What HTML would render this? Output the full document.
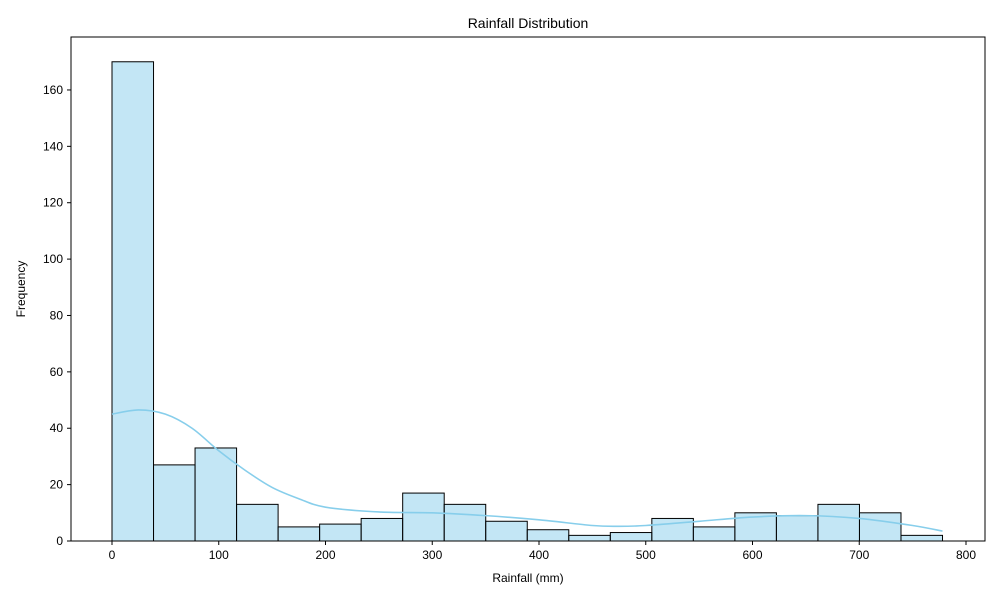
<!DOCTYPE html>
<html><head><meta charset="utf-8"><style>
body{margin:0;background:#fff}
svg{font-family:"Liberation Sans","DejaVu Sans",sans-serif}
</style></head><body>
<svg id="chart" width="1000" height="600">
<text x="528" y="28" font-size="14" text-anchor="middle">Rainfall Distribution</text>
<text x="528" y="582" font-size="12" text-anchor="middle">Rainfall (mm)</text>
<text x="25" y="289" font-size="12" text-anchor="middle" transform="rotate(-90 25 289)">Frequency</text>
<g id="bars"></g><g id="ticks"></g>
<path id="kde" fill="none" stroke="#87ceeb" stroke-width="1.6"></path>
<rect x="71" y="37" width="914" height="504" fill="none" stroke="#000" stroke-width="1"></rect>
</svg>
<script>
const binStart = 0;
const binWidth = 38.9;
const counts = [170,27,33,13,5,6,8,17,13,7,4,2,3,8,5,10,9,13,10,2];
const kdeX = [0,25,50,75,100,125,150,175,200,250,300,350,400,450,475,500,550,600,650,700,750,778];
const kdeY = [45,46.5,45,40,32,25,19,15,12,10.3,10,9,7.5,5.5,5.2,5.5,7,8.5,9,8,5.5,3.5];
const xTicks = [0,100,200,300,400,500,600,700,800];
const yTicks = [0,20,40,60,80,100,120,140,160];
const NS="http://www.w3.org/2000/svg";
const sx=v=>112+v*1.0675, sy=v=>541-v*2.819;
const bars=document.getElementById('bars'), ticks=document.getElementById('ticks');
counts.forEach((c,i)=>{
 const r=document.createElementNS(NS,'rect');
 const x0=sx(binStart+i*binWidth), x1=sx(binStart+(i+1)*binWidth);
 r.setAttribute('x',x0);r.setAttribute('y',sy(c));
 r.setAttribute('width',x1-x0);r.setAttribute('height',sy(0)-sy(c));
 r.setAttribute('fill','rgba(135,206,235,0.5)');r.setAttribute('stroke','#000');r.setAttribute('stroke-width','1');
 
 
 bars.appendChild(r);
});
xTicks.forEach(t=>{
 const l=document.createElementNS(NS,'line');
 l.setAttribute('x1',sx(t));l.setAttribute('x2',sx(t));l.setAttribute('y1',541);l.setAttribute('y2',545);l.setAttribute('stroke','#000');
 
 
 ticks.appendChild(l);
 const tx=document.createElementNS(NS,'text');
 tx.setAttribute('x',sx(t));tx.setAttribute('y',559);tx.setAttribute('font-size','12');tx.setAttribute('text-anchor','middle');
 tx.textContent=t;
 
 
 ticks.appendChild(tx);
});
yTicks.forEach(t=>{
 const l=document.createElementNS(NS,'line');
 l.setAttribute('x1',67);l.setAttribute('x2',71);l.setAttribute('y1',sy(t));l.setAttribute('y2',sy(t));l.setAttribute('stroke','#000');
 
 
 ticks.appendChild(l);
 const tx=document.createElementNS(NS,'text');
 tx.setAttribute('x',63);tx.setAttribute('y',sy(t)+4);tx.setAttribute('font-size','12');tx.setAttribute('text-anchor','end');
 tx.textContent=t;
 
 
 ticks.appendChild(tx);
});
// smooth curve via Catmull-Rom
const pts=kdeX.map((x,i)=>[sx(x),sy(kdeY[i])]);
let d='M'+pts[0].join(',');
for(let i=0;i<pts.length-1;i++){
 const p0=pts[i-1]||pts[i],p1=pts[i],p2=pts[i+1],p3=pts[i+2]||p2;
 const c1=[p1[0]+(p2[0]-p0[0])/6,p1[1]+(p2[1]-p0[1])/6];
 const c2=[p2[0]-(p3[0]-p1[0])/6,p2[1]-(p3[1]-p1[1])/6];
 d+=' C'+c1.join(',')+' '+c2.join(',')+' '+p2.join(',');
}
document.getElementById('kde').setAttribute('d',d);
</script>
</body></html>
